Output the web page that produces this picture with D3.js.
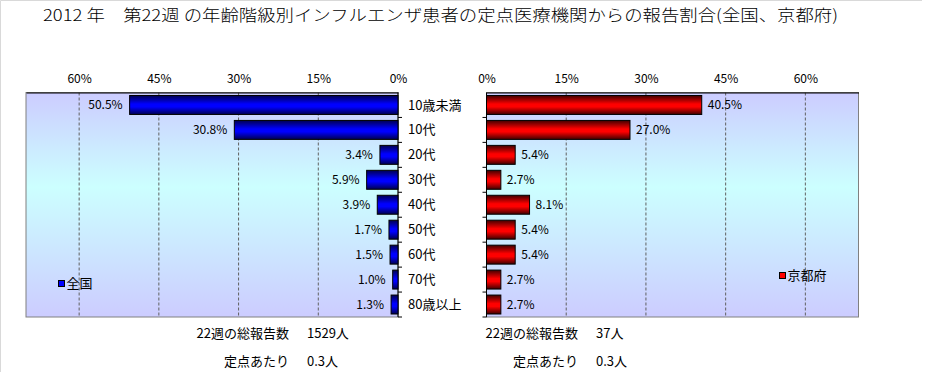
<!DOCTYPE html>
<html>
<head>
<meta charset="utf-8">
<script src="https://cdn.jsdelivr.net/npm/d3@7"></script>
<style>
  body { margin: 0; background: #fff; }
  svg text { font-family: "Noto Sans CJK JP", "Noto Sans", sans-serif; fill: #000; }
</style>
</head>
<body>
<div id="wrapper"></div>
<script>
const categories = ['10歳未満', '10代', '20代', '30代', '40代', '50代', '60代', '70代', '80歳以上']
const nationalValues = [50.5, 30.8, 3.4, 5.9, 3.9, 1.7, 1.5, 1.0, 1.3]
const kyotoValues = [40.5, 27.0, 5.4, 2.7, 8.1, 5.4, 5.4, 2.7, 2.7]
const tickValues = [0, 15, 30, 45, 60]
const titleText = '2012 年\u3000第22週 の年齢階級別インフルエンザ患者の定点医療機関からの報告割合(全国、京都府)'
const summaryLabels = ['22週の総報告数', '定点あたり']
const nationalSummary = ['1529人', '0.3人']
const kyotoSummary = ['37人', '0.3人']

const width = 926
const height = 372
const plotTop = 92.5
const plotBottom = 317

const svg = d3.select('#wrapper').append('svg').attr('width', width).attr('height', height)
const defs = svg.append('defs')

// light frame
svg.append('path').attr('d', 'M0.5,372 V0.5 H922').attr('fill', 'none').attr('stroke', '#d9d9d9')

// gradients
const bg = defs.append('linearGradient').attr('id', 'bg').attr('x1', 0).attr('x2', 0).attr('y1', 0).attr('y2', 1)
bg.append('stop').attr('offset', '0%').attr('stop-color', '#ccccff')
bg.append('stop').attr('offset', '42%').attr('stop-color', '#ccffff')
bg.append('stop').attr('offset', '100%').attr('stop-color', '#ccccff')

function barGradient(id, dark, mid) {
  const g = defs.append('linearGradient').attr('id', id).attr('x1', 0).attr('x2', 0).attr('y1', 0).attr('y2', 1)
  g.append('stop').attr('offset', '0%').attr('stop-color', dark)
  g.append('stop').attr('offset', '45%').attr('stop-color', mid)
  g.append('stop').attr('offset', '60%').attr('stop-color', mid)
  g.append('stop').attr('offset', '100%').attr('stop-color', dark)
}
barGradient('blueBar', '#000050', '#0000ff')
barGradient('redBar', '#400000', '#ff0000')

// title
svg.append('text')
  .attr('x', 43).attr('y', 21)
  .attr('font-size', 16)
  .attr('font-weight', 300)
  .attr('textLength', 795)
  .attr('lengthAdjust', 'spacingAndGlyphs')
  .text(titleText)

const yScale = d3.scaleBand()
  .domain(categories)
  .range([plotTop, plotBottom])
  .paddingInner(0.24)
  .paddingOuter(0.12)
const rowScale = d3.scaleBand().domain(categories).range([plotTop, plotBottom])

function drawPanel({ x0, x1, reversed, values, fill, legend, legendX, legendY, summary, summaryX }) {
  const xScale = d3.scaleLinear().domain([0, 70]).range(reversed ? [x1, x0] : [x0, x1])
  const g = svg.append('g')

  g.append('rect')
    .attr('x', x0).attr('y', plotTop)
    .attr('width', x1 - x0).attr('height', plotBottom - plotTop)
    .attr('fill', 'url(#bg)')
    .attr('stroke', '#808080')

  // dashed grid
  g.selectAll('.grid')
    .data(tickValues.filter((d) => d > 0))
    .join('line')
    .attr('x1', (d) => xScale(d)).attr('x2', (d) => xScale(d))
    .attr('y1', plotTop).attr('y2', plotBottom)
    .attr('stroke', '#606060')
    .attr('stroke-dasharray', '3,2')

  // top value axis
  const axis = d3.axisTop(xScale).tickValues(tickValues).tickSize(0).tickPadding(10)
    .tickFormat((d) => d + '%')
  const ax = g.append('g').attr('transform', `translate(0,${plotTop})`).call(axis)
  ax.select('.domain').attr('stroke', '#000')
  ax.selectAll('text').attr('font-size', 12).attr('font-family', '"Noto Sans CJK JP", sans-serif')
  ax.selectAll('.tick line').remove()

  // category axis with boundary ticks
  const axisX = xScale(0)
  g.append('line')
    .attr('x1', axisX).attr('x2', axisX)
    .attr('y1', plotTop).attr('y2', plotBottom)
    .attr('stroke', '#000')
  const dir = reversed ? 1 : -1
  g.selectAll('.ctick')
    .data(categories)
    .join('line')
    .attr('x1', axisX).attr('x2', axisX + dir * 4)
    .attr('y1', (d) => rowScale(d) + rowScale.bandwidth())
    .attr('y2', (d) => rowScale(d) + rowScale.bandwidth())
    .attr('stroke', '#000')

  // bars
  g.selectAll('.bar')
    .data(values)
    .join('rect')
    .attr('x', (d) => Math.min(xScale(0), xScale(d)))
    .attr('y', (d, i) => yScale(categories[i]))
    .attr('width', (d) => Math.abs(xScale(d) - xScale(0)))
    .attr('height', yScale.bandwidth())
    .attr('fill', fill)
    .attr('stroke', '#000')

  // value labels
  g.selectAll('.val')
    .data(values)
    .join('text')
    .attr('x', (d) => xScale(d) + (reversed ? -7 : 6))
    .attr('y', (d, i) => yScale(categories[i]) + yScale.bandwidth() / 2)
    .attr('dy', '0.35em')
    .attr('text-anchor', reversed ? 'end' : 'start')
    .attr('font-size', 12)
    .text((d) => d.toFixed(1) + '%')

  // legend
  g.append('rect')
    .attr('x', legendX).attr('y', legendY - 3)
    .attr('width', 6).attr('height', 6)
    .attr('fill', reversed ? '#0000ff' : '#ff0000')
    .attr('stroke', '#000')
  g.append('text')
    .attr('x', legendX + 8).attr('y', legendY)
    .attr('dy', '0.35em')
    .attr('font-size', 13)
    .text(legend)

  // summary text
  summaryLabels.forEach((label, i) => {
    const y = 338 + i * 28
    g.append('text').attr('x', summaryX).attr('y', y).attr('text-anchor', 'end').attr('font-size', 13).text(label)
    g.append('text').attr('x', summaryX + 18).attr('y', y).attr('font-size', 13).text(summary[i])
  })
}

drawPanel({
  x0: 26, x1: 398, reversed: true, values: nationalValues, fill: 'url(#blueBar)',
  legend: '全国', legendX: 58.5, legendY: 283.5, summary: nationalSummary, summaryX: 289,
})
drawPanel({
  x0: 486.5, x1: 858.5, reversed: false, values: kyotoValues, fill: 'url(#redBar)',
  legend: '京都府', legendX: 779.5, legendY: 275.5, summary: kyotoSummary, summaryX: 578,
})

// category labels
svg.selectAll('.cat')
  .data(categories)
  .join('text')
  .attr('x', 408)
  .attr('y', (d) => rowScale(d) + rowScale.bandwidth() / 2)
  .attr('dy', '0.35em')
  .attr('font-size', 13)
  .text((d) => d)
</script>
</body>
</html>
